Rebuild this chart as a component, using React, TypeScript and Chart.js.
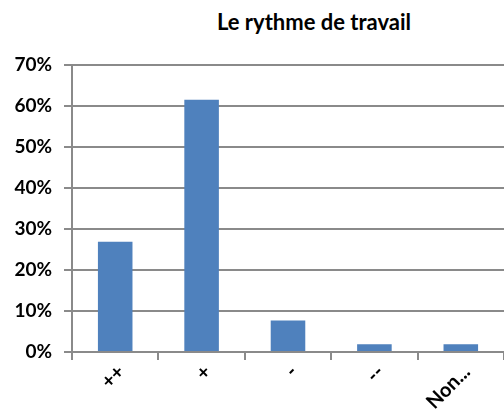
import React, { useEffect, useRef } from "react";
import { Chart, registerables } from "chart.js";

Chart.register(...registerables);

const title = "Le rythme de travail";
const categories = ["++", "+", "-", "--", "Non..."];
const values = [0.269, 0.615, 0.077, 0.019, 0.019];
const yMax = 0.7;
const yStep = 0.1;

const FONT = "Lato, 'Open Sans', sans-serif";
const GRID = "#8a8a8a";
const BAR = "#4f81bd";

export default function App() {
  const ref = useRef<HTMLCanvasElement | null>(null);

  useEffect(() => {
    document.body.style.margin = "0";
    const canvas = ref.current;
    if (!canvas) return;
    const chart = new Chart(canvas, {
      type: "bar",
      data: {
        labels: categories,
        datasets: [
          {
            data: values,
            backgroundColor: BAR,
            borderWidth: 0,
            categoryPercentage: 1,
            barPercentage: 0.4,
          },
        ],
      },
      options: {
        animation: false,
        responsive: false,
        maintainAspectRatio: false,
        layout: { padding: { top: 65, left: 0, right: 0, bottom: 0 } },
        plugins: {
          legend: { display: false },
          title: { display: false },
          tooltip: { enabled: false },
        },
        scales: {
          x: {
            grid: {
              display: true,
              drawOnChartArea: false,
              drawTicks: true,
              tickLength: 8,
              color: GRID,
              lineWidth: 2,
              offset: true,
            },
            border: { color: GRID, width: 2 },
            ticks: {
              color: "#000",
              font: { family: FONT, size: 20, weight: "bold" },
              minRotation: 45,
              maxRotation: 45,
              padding: 0,
              labelOffset: 6,
            },
            afterFit: (scale: any) => {
              scale.height = 57;
            },
          },
          y: {
            min: 0,
            max: yMax,
            grid: {
              color: GRID,
              lineWidth: 2,
              tickLength: 8,
              drawTicks: true,
            },
            border: { color: GRID, width: 2 },
            ticks: {
              stepSize: yStep,
              color: "#000",
              padding: 12,
              font: { family: FONT, size: 19, weight: "bold" },
              callback: (v: any) => Math.round(Number(v) * 100) + "%",
            },
            afterFit: (scale: any) => {
              scale.width = 72;
            },
          },
        },
      },
    });
    return () => chart.destroy();
  }, []);

  return (
    <div
      style={{
        position: "absolute",
        left: 0,
        top: 0,
        width: 504,
        height: 409,
        overflow: "hidden",
        background: "#fff",
      }}
    >
      <div
        style={{
          position: "absolute",
          left: 0,
          top: 11,
          width: 628,
          textAlign: "center",
          fontFamily: FONT,
          fontWeight: "bold",
          fontSize: 22,
          lineHeight: "22px",
          color: "#000",
          whiteSpace: "nowrap",
        }}
      >
        {title}
      </div>
      <canvas
        ref={ref}
        width={504}
        height={409}
        style={{ position: "absolute", left: 0, top: 0, width: 504, height: 409 }}
      />
    </div>
  );
}
